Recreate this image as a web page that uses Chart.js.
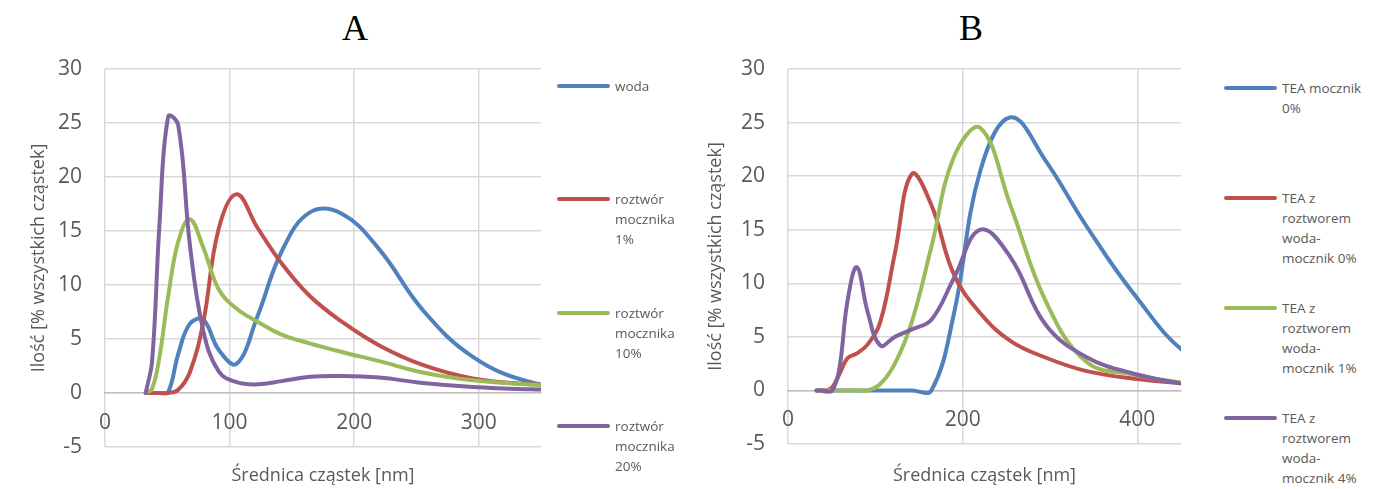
<!DOCTYPE html>
<html>
<head>
<meta charset="utf-8">
<script src="https://cdn.jsdelivr.net/npm/chart.js@4.4.1/dist/chart.umd.min.js"></script>
<style>
html,body{margin:0;padding:0;background:#fff;}
#wrap{position:relative;width:1389px;height:489px;overflow:hidden;background:#fff;font-family:'Open Sans',sans-serif;}
canvas{position:absolute;top:0;}
.ttl{position:absolute;top:10px;font-family:'Liberation Serif','Times New Roman',serif;font-size:36px;line-height:36px;color:#000;transform:translateX(-50%);white-space:nowrap;}
.leg{position:absolute;color:#595959;font-size:13.5px;line-height:20px;white-space:nowrap;}
.leg .sw{position:absolute;left:0;top:8px;width:53px;height:4px;border-radius:2px;}
.leg .tx{position:absolute;left:58px;top:0;}
</style>
</head>
<body>
<div id="wrap">
  <div class="ttl" style="left:355px">A</div>
  <div class="ttl" style="left:971px">B</div>
  <canvas id="cA" width="560" height="489" style="left:0px;width:560px;height:489px"></canvas>
  <canvas id="cB" width="510" height="489" style="left:690px;width:510px;height:489px"></canvas>
</div>
<script>
// Particle size bins (nm)
const sizes = [32.67, 37.84, 43.82, 50.75, 58.77, 68.06, 78.82, 91.28, 105.7, 122.4, 141.8, 164.2, 190.1, 220.2, 255.0, 295.3, 342.0, 396.1, 458.7, 531.2];

// Chart A series (% of all particles)
const wodaA      = [null, null, 0, 0.1, 3.6, 6.4, 6.8, 4.0, 2.7, 7.1, 13.1, 16.7, 16.6, 13.3, 7.7, 3.35, 1.0, 0.3, 0.1, 0];
const mocznik1A  = [0, 0, 0, 0, 0.3, 1.9, 6.5, 15.2, 18.4, 15.3, 12.0, 9.0, 6.6, 4.4, 2.6, 1.35, 0.8, 0.5, 0.3, 0.1];
const mocznik10A = [0, 0.4, 3.4, 9.0, 14.0, 16.1, 13.5, 9.6, 7.8, 6.6, 5.4, 4.6, 3.8, 2.95, 1.9, 1.18, 0.78, 0.5, 0.3, 0.1];
const mocznik20A = [0, 3.0, 15.8, 25.6, 24.8, 13.8, 5.8, 2.0, 1.0, 0.8, 1.1, 1.5, 1.58, 1.43, 0.93, 0.56, 0.34, 0.2, 0.1, 0];

// Chart B series
const teaMocznik0B = [0, 0, 0, 0, 0, 0, 0, 0, 0, 0, 0, 0, 7.2, 20.5, 25.5, 21.4, 15.3, 9.0, 3.3, 0.8];
const teaWoda0B    = [0, 0, 0, 0.3, 1.5, 3.0, 3.45, 4.3, 6.4, 12.8, 20.2, 17.3, 10.8, 7.2, 4.6, 3.05, 1.8, 1.1, 0.65, 0.3];
const teaWoda1B    = [0, 0, 0, 0, 0, 0, 0, 0, 0.6, 2.5, 6.4, 13.4, 21.8, 24.5, 17.2, 8.3, 2.65, 1.47, 0.65, 0.3];
const teaWoda4B    = [0, 0, -0.1, 0, 2.0, 8.3, 11.5, 7.3, 4.2, 5.0, 5.7, 6.6, 10.5, 15.0, 12.4, 6.1, 3.1, 1.56, 0.55, 0.2];

// Legend labels (lines)
const namesA = [["woda"], ["roztwór", "mocznika", "1%"], ["roztwór", "mocznika", "10%"], ["roztwór", "mocznika", "20%"]];
const namesB = [["TEA mocznik", "0%"], ["TEA z", "roztworem", "woda-", "mocznik 0%"], ["TEA z", "roztworem", "woda-", "mocznik 1%"], ["TEA z", "roztworem", "woda-", "mocznik 4%"]];

// Axis ticks / titles
const yTicks = {min: -5, max: 30, step: 5};
const xTicksA = {min: 0, max: 350, values: [0, 100, 200, 300]};
const xTicksB = {min: 0, max: 450, values: [0, 200, 400]};
const yTitle = "Ilość [% wszystkich cząstek]";
const xTitle = "Średnica cząstek [nm]";

const colors = ["#4F81BD", "#C0504D", "#9BBB59", "#8064A2"];
const txtColor = "#595959";
Chart.defaults.font.family = "'Open Sans', sans-serif";

function makeDatasets(seriesList, names) {
  return seriesList.map((vals, i) => ({
    label: names[i].join(" "),
    data: sizes.map((s, k) => ({x: s, y: vals[k]})),
    borderColor: colors[i],
    backgroundColor: colors[i],
    borderWidth: 4,
    pointRadius: 0,
    tension: 0.4,
    fill: false,
    clip: 0,
    order: -i,
    xAxisID: 'x',
    yAxisID: 'y',
    borderCapStyle: 'round',
    borderJoinStyle: 'round'
  }));
}

function makeChart(id, seriesList, names, xt, yAxisWidth, yTitlePad, bottomH) {
  return new Chart(document.getElementById(id), {
    type: 'line',
    data: {datasets: makeDatasets(seriesList, names)},
    options: {
      responsive: false,
      animation: false,
      devicePixelRatio: 1,
      layout: {padding: {top: 69, right: 19, bottom: 0, left: 0}},
      plugins: {legend: {display: false}, tooltip: {enabled: false}, title: {display: false}},
      scales: {
        x: {
          type: 'linear',
          position: {y: 0},
          min: xt.min, max: xt.max,
          ticks: {color: txtColor, font: {size: 21}, padding: 17, maxRotation: 0, autoSkip: false},
          afterBuildTicks: s => { s.ticks = xt.values.map(v => ({value: v})); },
          grid: {color: '#d9d9d9', lineWidth: 1.5, drawTicks: false},
          border: {display: true, color: '#bfbfbf', width: 1.5}
        },
        xt: {
          type: 'linear',
          axis: 'x',
          position: 'bottom',
          ticks: {display: false},
          grid: {display: false, drawTicks: false},
          border: {display: false},
          title: {display: true, text: xTitle, color: txtColor, font: {size: 18}, padding: {top: 0, bottom: 2}},
          afterFit: s => { s.height = bottomH; }
        },
        y: {
          type: 'linear',
          position: 'left',
          min: yTicks.min, max: yTicks.max,
          ticks: {stepSize: yTicks.step, color: txtColor, font: {size: 21}, padding: 23},
          grid: {color: '#d9d9d9', lineWidth: 1.5, drawTicks: false},
          border: {display: false},
          title: {display: true, text: yTitle, color: txtColor, font: {size: 18}, padding: {top: yTitlePad, bottom: 0}},
          afterFit: s => { s.width = yAxisWidth; }
        }
      }
    }
  });
}

makeChart('cA', [wodaA, mocznik1A, mocznik10A, mocznik20A], namesA, xTicksA, 105, 28, 42);
makeChart('cB', [teaMocznik0B, teaWoda0B, teaWoda1B, teaWoda4B], namesB, xTicksB, 98, 15, 45);

function buildLegend(names, left, firstY, step) {
  const wrap = document.getElementById('wrap');
  names.forEach((lines, i) => {
    const d = document.createElement('div');
    d.className = 'leg';
    d.style.left = left + 'px';
    d.style.top = (firstY + i * step - 10) + 'px';
    const sw = document.createElement('div');
    sw.className = 'sw';
    sw.style.background = colors[i];
    const tx = document.createElement('div');
    tx.className = 'tx';
    tx.innerHTML = lines.map(l => l.replace(/&/g, '&amp;').replace(/</g, '&lt;')).join('<br>');
    d.appendChild(sw); d.appendChild(tx);
    wrap.appendChild(d);
  });
}
buildLegend(namesA, 557, 86, 113.3);
buildLegend(namesB, 1224, 88, 110);
</script>
</body>
</html>
